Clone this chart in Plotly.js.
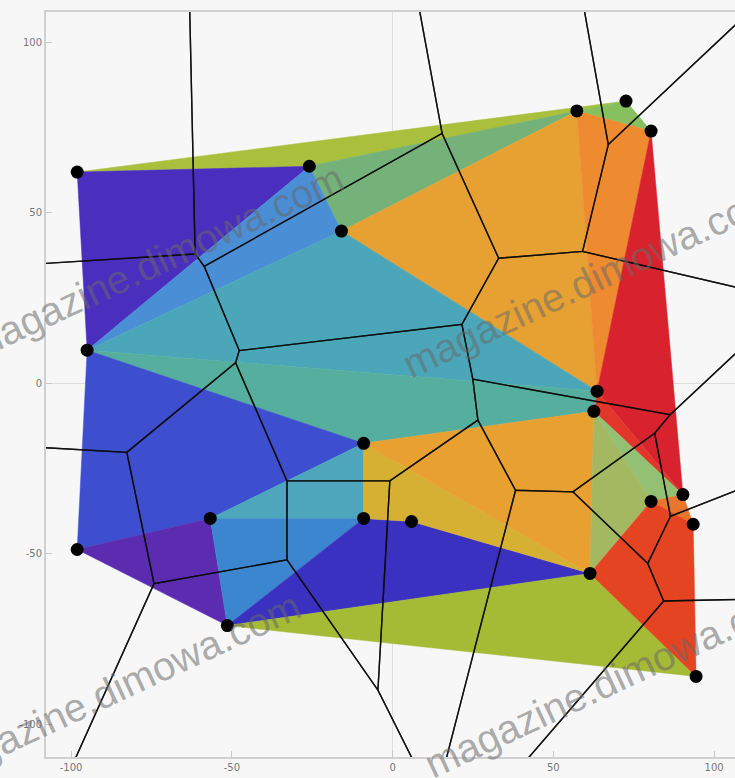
<!DOCTYPE html>
<html>
<head>
<meta charset="utf-8">
<script src="https://cdn.plot.ly/plotly-3.0.1.min.js"></script>
<style>html,body{margin:0;padding:0;background:#f7f7f7;}#chart{width:735px;height:778px;}</style>
</head>
<body>
<div id="chart"></div>
<script>
// Site points (data coordinates)
const pointX = [-98.1, -25.9, -15.9, 57.3, 72.6, 80.4, -95.0, 63.6, 62.6, -9.0, 80.4, 90.3, 93.5, -56.7, -9.0, 5.9, -98.1, 61.4, -51.4, 94.4];
const pointY = [61.9, 63.6, 44.6, 79.8, 82.7, 73.9, 9.7, -2.3, -8.2, -17.6, -34.6, -32.6, -41.3, -39.6, -39.6, -40.5, -48.7, -55.7, -71.0, -85.9];

// Coloured regions, given as lists of site indices (drawn in order)
const regions = [
  [0, 4, 1],
  [1, 3, 2],
  [3, 4, 5],
  [2, 3, 7],
  [3, 5, 7],
  [5, 11, 7],
  [7, 8, 11],
  [0, 1, 6],
  [1, 2, 6],
  [6, 2, 7],
  [6, 7, 8, 9],
  [6, 9, 13, 16],
  [16, 13, 18],
  [13, 9, 14],
  [13, 14, 18],
  [14, 15, 17, 18],
  [18, 17, 19],
  [9, 17, 15, 14],
  [9, 8, 17],
  [8, 11, 10],
  [8, 10, 17],
  [10, 11, 12],
  [17, 10, 12, 19]
];
const regionColors = [
  '#aabf3c', '#74b27a', '#88c060', '#e6a132', '#ee8a30', '#d8232f', '#e2362a',
  '#4a2fbf', '#4a8fd6', '#4aa6b8', '#56ae9e', '#3d4fcf', '#5b2bb0', '#4ea6bc',
  '#3c86d0', '#3a31c0', '#a5ba35', '#d6b033', '#e8a031', '#93c072', '#a4b862',
  '#e8762c', '#e54422'
];

const traces = [];
regions.forEach((r, k) => {
  const xs = r.map(i => pointX[i]); const ys = r.map(i => pointY[i]);
  xs.push(xs[0]); ys.push(ys[0]);
  traces.push({type: 'scatter', mode: 'lines', x: xs, y: ys, fill: 'toself',
    fillcolor: regionColors[k], line: {width: 0.5, color: regionColors[k]}, hoverinfo: 'skip'});
});

// Voronoi cells computed from the sites (half-plane clipping)
function clipPoly(poly, a, b, c) {
  const out = [];
  for (let i = 0; i < poly.length; i++) {
    const P = poly[i], Q = poly[(i + 1) % poly.length];
    const fp = a * P[0] + b * P[1] - c, fq = a * Q[0] + b * Q[1] - c;
    if (fp <= 0) out.push(P);
    if ((fp < 0 && fq > 0) || (fp > 0 && fq < 0)) {
      const t = fp / (fp - fq);
      out.push([P[0] + t * (Q[0] - P[0]), P[1] + t * (Q[1] - P[1])]);
    }
  }
  return out;
}
const B = 2000;
const vx = [], vy = [];
for (let i = 0; i < pointX.length; i++) {
  let poly = [[-B, -B], [B, -B], [B, B], [-B, B]];
  for (let j = 0; j < pointX.length; j++) {
    if (i === j) continue;
    const a = 2 * (pointX[j] - pointX[i]), b = 2 * (pointY[j] - pointY[i]);
    const c = pointX[j] ** 2 + pointY[j] ** 2 - pointX[i] ** 2 - pointY[i] ** 2;
    poly = clipPoly(poly, a, b, c);
  }
  poly.forEach(p => { vx.push(p[0]); vy.push(p[1]); });
  vx.push(poly[0][0], null); vy.push(poly[0][1], null);
}
traces.push({type: 'scatter', mode: 'lines', x: vx, y: vy, line: {color: 'rgba(10,10,10,0.85)', width: 1.4}, hoverinfo: 'skip'});

traces.push({type: 'scatter', mode: 'markers', x: pointX, y: pointY,
  marker: {color: '#000', size: 13}, hoverinfo: 'skip'});

const wm = 'magazine.dimowa.com';
const wmStyle = {size: 40, color: 'rgba(105,105,105,0.55)', family: 'Liberation Sans, Arial, sans-serif'};
function paperX(px) { return (px - 46) / 689; }
function paperY(py) { return (757 - py) / 745; }
const annotations = [[155, 262], [590, 280], [112, 690], [612, 680]].map(p => ({
  text: wm, xref: 'paper', yref: 'paper', x: paperX(p[0]), y: paperY(p[1]),
  showarrow: false, textangle: -25, font: wmStyle, xanchor: 'center', yanchor: 'middle'
}));

const axisBase = {
  showgrid: false, zeroline: true, zerolinecolor: '#dedede', zerolinewidth: 1,
  showline: true, linecolor: '#d0d0d0', linewidth: 2, mirror: true,
  ticks: 'inside', ticklen: 6, tickcolor: '#c8c8c8',
  tickfont: {size: 10, color: '#777', family: 'DejaVu Sans, sans-serif'}
};
const layout = {
  width: 735, height: 778,
  margin: {l: 46, r: 0, t: 12, b: 21},
  paper_bgcolor: '#f7f7f7', plot_bgcolor: '#f7f7f7',
  showlegend: false,
  xaxis: Object.assign({}, axisBase, {range: [-107.8, 106.5], tickvals: [-100, -50, 0, 50, 100], ticktext: ['-100', '-50', '0', '50', '100']}),
  yaxis: Object.assign({}, axisBase, {range: [-109.5, 108.8], tickvals: [-100, -50, 0, 50, 100], ticktext: ['-100', '-50', '0', '50', '100']}),
  annotations: annotations
};
Plotly.newPlot('chart', traces, layout, {staticPlot: true});
</script>
</body>
</html>
